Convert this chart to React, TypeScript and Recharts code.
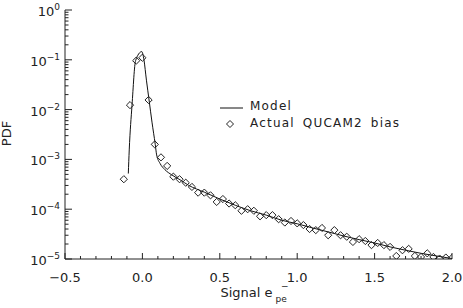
import React from 'react';
import { ComposedChart, Line, Scatter, XAxis, YAxis, Legend } from 'recharts';

const FONT = '"DejaVu Sans", Verdana, sans-serif';
const INK = '#222';

// Measured QUCAM2 bias histogram: bin centres (e-) and PDF
const binCentres = [
  -0.12, -0.08, -0.04, 0.0, 0.04, 0.08, 0.12, 0.16, 0.2, 0.24, 0.28, 0.32, 0.36, 0.4,
  0.44, 0.48, 0.52, 0.56, 0.6, 0.64, 0.68, 0.72, 0.76, 0.8, 0.84, 0.88, 0.92, 0.96, 1.0,
  1.04, 1.08, 1.12, 1.16, 1.2, 1.24, 1.28, 1.32, 1.36, 1.4, 1.44, 1.48, 1.52, 1.56, 1.6,
  1.64, 1.68, 1.72, 1.76, 1.8, 1.84, 1.88, 1.92, 1.96, 2.0,
];
const biasPdf = [
  4.0e-4, 0.0123, 0.096, 0.11, 0.0156, 0.002, 1.1e-3, 7.4e-4, 4.5e-4, 4.0e-4, 3.4e-4,
  2.8e-4, 2.15e-4, 2.15e-4, 1.9e-4, 1.4e-4, 1.6e-4, 1.3e-4, 1.2e-4, 9.3e-5, 1.0e-4,
  9.3e-5, 7.2e-5, 7.6e-5, 7.6e-5, 6.3e-5, 5.4e-5, 5.8e-5, 5.2e-5, 4.8e-5, 4.0e-5,
  3.8e-5, 4.2e-5, 3.0e-5, 3.8e-5, 3.0e-5, 2.8e-5, 2.2e-5, 2.5e-5, 2.3e-5, 1.9e-5,
  2.1e-5, 1.9e-5, 1.75e-5, 1.15e-5, 1.5e-5, 1.6e-5, 1.15e-5, 1.1e-5, 1.3e-5, 1.1e-5,
  1.02e-5, 1.07e-5, 1.05e-5,
];

// Model curve samples
const modelSignal = [
  -0.091, -0.085, -0.067, -0.044, -0.004, 0.01, 0.026, 0.043, 0.062, 0.083, 0.092, 0.114,
  0.146, 0.189, 0.243, 0.3, 0.4, 0.5, 0.6, 0.7, 0.8, 0.9, 1.0, 1.1, 1.2, 1.3, 1.4, 1.5,
  1.6, 1.7, 1.8, 1.9, 2.0,
];
const modelPdf = [
  5.2e-4, 1.55e-3, 0.0123, 0.096, 0.146, 0.1, 0.039, 0.0156, 0.0056, 0.002, 1.23e-3,
  8.3e-4, 6.2e-4, 4.9e-4, 3.9e-4, 3.0e-4, 2.2e-4, 1.6e-4, 1.2e-4, 9.3e-5, 7.6e-5, 6.0e-5,
  5.1e-5, 4.2e-5, 3.5e-5, 2.9e-5, 2.45e-5, 2.1e-5, 1.75e-5, 1.5e-5, 1.3e-5, 1.15e-5,
  1.02e-5,
];

// Axis ticks and labels
const xTicks = [
  -0.5, -0.4, -0.3, -0.2, -0.1, 0, 0.1, 0.2, 0.3, 0.4, 0.5, 0.6, 0.7, 0.8, 0.9, 1.0, 1.1,
  1.2, 1.3, 1.4, 1.5, 1.6, 1.7, 1.8, 1.9, 2.0,
];
const xMajorTicks = [-0.5, 0, 0.5, 1.0, 1.5, 2.0];
const xTickLabels = ['\u22120.5', '0.0', '0.5', '1.0', '1.5', '2.0'];
const yDecades = [1, 0.1, 0.01, 0.001, 1e-4, 1e-5];
const yExponents = ['0', '\u22121', '\u22122', '\u22123', '\u22124', '\u22125'];
const yMantissas = [2, 3, 4, 5, 6, 7, 8, 9];

const yTicks: number[] = [];
yDecades.forEach((d) => {
  yTicks.push(d);
  if (d < 1) yMantissas.forEach((m) => yTicks.push(m * d));
});

const measured = binCentres.map((x, i) => ({ x, y: biasPdf[i] }));
const model = modelSignal.map((x, i) => ({ x, y: modelPdf[i] }));

const XTick = (props: any) => {
  const { x, y, payload, side } = props;
  const idx = xMajorTicks.findIndex((t) => Math.abs(t - payload.value) < 1e-6);
  const major = idx >= 0;
  const len = major ? 6 : 3;
  const dir = side === 'top' ? 1 : -1;
  return (
    <g>
      <line x1={x} x2={x} y1={y} y2={y + dir * len} stroke={INK} strokeWidth={1} />
      {side === 'bottom' && major && (
        <text
          x={x}
          y={y + 23}
          textAnchor="middle"
          fontFamily={FONT}
          fontSize={13}
          fill={INK}
        >
          {xTickLabels[idx]}
        </text>
      )}
    </g>
  );
};

const YTick = (props: any) => {
  const { x, y, payload, side } = props;
  const lg = Math.log10(payload.value);
  const idx = yDecades.findIndex((d) => Math.abs(Math.log10(d) - lg) < 1e-6);
  const major = idx >= 0;
  const len = major ? 7 : 3.5;
  const dir = side === 'left' ? 1 : -1;
  return (
    <g>
      <line x1={x} x2={x + dir * len} y1={y} y2={y} stroke={INK} strokeWidth={1} />
      {side === 'left' && major && (
        <text x={x - 5} y={y + 6} textAnchor="end" fontFamily={FONT} fontSize={13} fill={INK}>
          10
          <tspan fontSize={9} dy={-6}>
            {yExponents[idx]}
          </tspan>
        </text>
      )}
    </g>
  );
};

const PdfLabel = (props: any) => {
  const vb = props.viewBox || { x: 0, y: 0, width: 0, height: 0 };
  const cx = vb.x + 11;
  const cy = vb.y + vb.height / 2 - 1;
  return (
    <text
      x={cx}
      y={cy}
      transform={`rotate(-90 ${cx} ${cy})`}
      textAnchor="middle"
      fontFamily={FONT}
      fontSize={13}
      fill={INK}
    >
      PDF
    </text>
  );
};

// Axis title "Signal e" with a "pe" subscript and a "−" superscript stacked over it
const SignalLabel = (props: any) => {
  const vb = props.viewBox || { x: 0, y: 0, width: 0, height: 0 };
  const sx = vb.x + vb.width / 2 - 38;
  const by = vb.y + 38;
  return (
    <g>
      <text x={sx} y={by} fontFamily={FONT} fontSize={13} fill={INK}>
        Signal e
      </text>
      <text x={sx + 55} y={by + 5} fontFamily={FONT} fontSize={9} fill={INK}>
        pe
      </text>
      <text x={sx + 60.5} y={by - 8} fontFamily={FONT} fontSize={9} fill={INK}>
        {'\u2212'}
      </text>
    </g>
  );
};

const Diamond = (props: any) => {
  const { cx, cy } = props;
  const r = 3.6;
  return (
    <path
      d={`M${cx},${cy - r}L${cx + r},${cy}L${cx},${cy + r}L${cx - r},${cy}Z`}
      fill="none"
      stroke={INK}
      strokeWidth={1}
    />
  );
};

const LegendBox = () => (
  <svg width={200} height={40} style={{ display: 'block' }}>
    <line x1={5} x2={28} y1={12} y2={12} stroke="#111" strokeWidth={1} />
    <text x={35} y={14} fontFamily={FONT} fontSize={12} fill={INK} letterSpacing={1.2}>
      Model
    </text>
    <path d="M15,24.5L18.5,28L15,31.5L11.5,28Z" fill="none" stroke={INK} strokeWidth={1} />
    <text
      x={35}
      y={31}
      fontFamily={FONT}
      fontSize={12}
      fill={INK}
      letterSpacing={1.2}
      wordSpacing={3}
    >
      Actual QUCAM2 bias
    </text>
  </svg>
);

export default function App() {
  return (
    <div style={{ position: 'absolute', left: 0, top: 0, background: '#fff' }}>
      <ComposedChart
        width={463}
        height={308}
        margin={{ top: 10, right: 11, left: 0, bottom: 0 }}
      >
        <XAxis
          xAxisId="bottom"
          dataKey="x"
          type="number"
          domain={[-0.5, 2]}
          allowDataOverflow
          ticks={xTicks}
          interval={0}
          height={49}
          tickSize={0}
          tickMargin={0}
          tickLine={false}
          axisLine={{ stroke: INK, strokeWidth: 1 }}
          tick={<XTick side="bottom" />}
          label={<SignalLabel />}
        />
        <XAxis
          xAxisId="top"
          orientation="top"
          dataKey="x"
          type="number"
          domain={[-0.5, 2]}
          allowDataOverflow
          ticks={xTicks}
          interval={0}
          height={0}
          tickSize={0}
          tickMargin={0}
          tickLine={false}
          axisLine={{ stroke: INK, strokeWidth: 1 }}
          tick={<XTick side="top" />}
        />
        <YAxis
          yAxisId="left"
          dataKey="y"
          type="number"
          scale="log"
          domain={[1e-5, 1]}
          allowDataOverflow
          ticks={yTicks}
          interval={0}
          width={65}
          tickSize={0}
          tickMargin={0}
          tickLine={false}
          axisLine={{ stroke: INK, strokeWidth: 1 }}
          tick={<YTick side="left" />}
          label={<PdfLabel />}
        />
        <YAxis
          yAxisId="right"
          orientation="right"
          dataKey="y"
          type="number"
          scale="log"
          domain={[1e-5, 1]}
          allowDataOverflow
          ticks={yTicks}
          interval={0}
          width={0}
          tickSize={0}
          tickMargin={0}
          tickLine={false}
          axisLine={{ stroke: INK, strokeWidth: 1 }}
          tick={<YTick side="right" />}
        />
        <Line
          xAxisId="bottom"
          yAxisId="left"
          data={model}
          dataKey="y"
          type="monotone"
          stroke="#111"
          strokeWidth={1}
          dot={false}
          activeDot={false}
          isAnimationActive={false}
        />
        <Scatter
          xAxisId="bottom"
          yAxisId="left"
          data={measured}
          dataKey="y"
          shape={<Diamond />}
          isAnimationActive={false}
        />
        <Legend
          layout="horizontal"
          verticalAlign="middle"
          align="center"
          content={<LegendBox />}
          wrapperStyle={{ position: 'absolute', left: 215, top: 96, width: 200, height: 40 }}
        />
      </ComposedChart>
    </div>
  );
}
